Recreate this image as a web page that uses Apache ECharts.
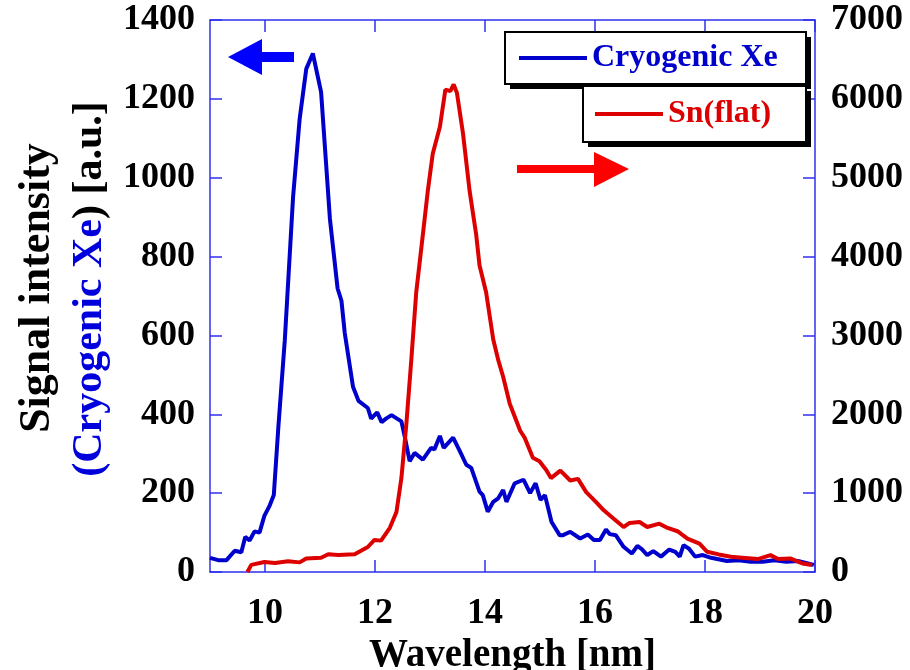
<!DOCTYPE html>
<html>
<head>
<meta charset="utf-8">
<script src="https://cdn.jsdelivr.net/npm/echarts@6/dist/echarts.min.js"></script>
<style>
  html, body { margin: 0; padding: 0; background: #fff; }
  #box1 { width: 910px; height: 670px; }
</style>
</head>
<body>
<div id="box1"></div>
<script>
// Cryogenic Xe (left axis)
var xeWl = [9.0, 9.15, 9.3, 9.45, 9.57, 9.64, 9.72, 9.81, 9.9, 9.99, 10.08, 10.16, 10.24, 10.36, 10.51, 10.63, 10.75, 10.87,
  11.02, 11.18, 11.32, 11.39, 11.45, 11.6, 11.7, 11.87, 11.93, 12.04, 12.12, 12.2, 12.3, 12.48, 12.54, 12.63, 12.72, 12.87,
  13.02, 13.08, 13.18, 13.25, 13.42, 13.54, 13.66, 13.75, 13.9, 13.96, 14.05, 14.15, 14.24, 14.33, 14.39, 14.54, 14.7, 14.82,
  14.92, 15.01, 15.09, 15.21, 15.36, 15.41, 15.55, 15.73, 15.87, 15.98, 16.09, 16.2, 16.27, 16.38, 16.52, 16.67, 16.77, 16.85,
  16.95, 17.06, 17.2, 17.35, 17.46, 17.54, 17.61, 17.71, 17.82, 17.96, 18.11, 18.4, 18.61, 18.83, 19.05, 19.26, 19.48, 19.69, 19.98];
var xeVal = [36, 30, 30, 54, 50, 89, 80, 103, 100, 143, 167, 195, 362, 588, 950, 1149, 1276, 1315,
  1217, 896, 719, 688, 606, 470, 434, 416, 389, 405, 380, 389, 398, 382, 344, 281, 302, 285,
  315, 311, 345, 315, 341, 307, 272, 264, 204, 195, 153, 178, 187, 208, 178, 225, 234, 200,
  225, 183, 195, 127, 93, 93, 102, 85, 95, 81, 81, 108, 96, 93, 64, 47, 66, 58,
  43, 53, 39, 57, 51, 39, 68, 59, 39, 43, 36, 28, 30, 26, 26, 30, 26, 28, 18];

// Sn(flat) (right axis)
var snWl = [9.68, 9.75, 9.99, 10.18, 10.42, 10.63, 10.75, 11.02, 11.15, 11.33, 11.63, 11.87, 11.99, 12.11, 12.27, 12.39, 12.48,
  12.57, 12.66, 12.75, 12.87, 12.96, 13.05, 13.18, 13.28, 13.37, 13.43, 13.49, 13.6, 13.72, 13.84, 13.9, 14.02, 14.15, 14.24,
  14.33, 14.45, 14.64, 14.72, 14.87, 14.99, 15.11, 15.2, 15.37, 15.55, 15.69, 15.84, 16.02, 16.16, 16.34, 16.52, 16.63, 16.81,
  16.95, 17.17, 17.32, 17.5, 17.68, 17.9, 18.04, 18.25, 18.47, 18.68, 18.96, 19.19, 19.33, 19.55, 19.77, 19.95];
var snVal = [0, 90, 127, 113, 136, 122, 172, 181, 226, 217, 226, 317, 407, 398, 560, 760, 1191,
  1877, 2690, 3548, 4276, 4833, 5304, 5647, 6118, 6097, 6182, 6075, 5561, 4833, 4276, 3890, 3548, 2948, 2690,
  2476, 2134, 1791, 1705, 1448, 1405, 1298, 1191, 1286, 1160, 1181, 1013, 887, 782, 676, 571, 622, 634,
  571, 613, 559, 517, 424, 361, 256, 223, 193, 181, 164, 214, 164, 172, 109, 88];

var xTicks = [10, 12, 14, 16, 18, 20];

function zip(a, b) {
  return a.map(function (v, i) { return [v, b[i]]; });
}
function plain(v) { return String(v); }

var font = 'Liberation Serif';
var axisBlue = '#3030ee';
var xeColor = '#0000cc';
var snColor = '#dd0000';

var myChart1 = echarts.init(document.getElementById('box1'));
var option = {
  backgroundColor: '#fff',
  animation: false,
  grid: { left: 210, right: 95, top: 20, bottom: 98, containLabel: false, outerBoundsMode: 'none' },
  legend: [{
    data: ['Cryogenic Xe'],
    left: 505, top: 32,
    selectedMode: false,
    icon: 'rect', itemWidth: 68, itemHeight: 4,
    padding: [8, 18, 8, 14],
    textStyle: { color: xeColor, fontFamily: font, fontWeight: 'bold', fontSize: 32, lineHeight: 36 }
  }, {
    data: ['Sn(flat)'],
    left: 583, top: 86,
    selectedMode: false,
    icon: 'rect', itemWidth: 68, itemHeight: 4,
    padding: [10, 16, 10, 12],
    textStyle: { color: snColor, fontFamily: font, fontWeight: 'bold', fontSize: 32, lineHeight: 36 }
  }],
  xAxis: [{
    type: 'value', min: 9, max: 20, interval: 1,
    name: 'Wavelength [nm]', nameLocation: 'middle', nameGap: 60,
    nameTextStyle: { color: '#000', fontFamily: font, fontWeight: 'bold', fontSize: 39 },
    axisLine: { onZero: false, lineStyle: { color: axisBlue, width: 1.5 } },
    axisTick: { inside: true, length: 12, customValues: xTicks, lineStyle: { color: axisBlue, width: 1.5 } },
    axisLabel: { customValues: xTicks, margin: 24, formatter: plain, color: '#000', fontFamily: font, fontWeight: 'bold', fontSize: 36 },
    splitLine: { show: false }
  }, {
    type: 'value', min: 9, max: 20, interval: 1, position: 'top',
    axisLine: { onZero: false, lineStyle: { color: axisBlue, width: 1.5 } },
    axisTick: { inside: true, length: 12, customValues: xTicks, lineStyle: { color: axisBlue, width: 1.5 } },
    axisLabel: { show: false },
    splitLine: { show: false }
  }],
  yAxis: [{
    type: 'value', min: 0, max: 1400, interval: 200,
    axisLine: { show: true, onZero: false, lineStyle: { color: axisBlue, width: 1.5 } },
    axisTick: { show: true, inside: true, length: 12, lineStyle: { color: axisBlue, width: 1.5 } },
    axisLabel: { margin: 15, formatter: plain, color: '#000', fontFamily: font, fontWeight: 'bold', fontSize: 36 },
    splitLine: { show: false }
  }, {
    type: 'value', min: 0, max: 7000, interval: 1000, position: 'right',
    axisLine: { show: true, onZero: false, lineStyle: { color: axisBlue, width: 1.5 } },
    axisTick: { show: true, inside: true, length: 12, lineStyle: { color: axisBlue, width: 1.5 } },
    axisLabel: { margin: 16, formatter: plain, color: '#000', fontFamily: font, fontWeight: 'bold', fontSize: 36 },
    splitLine: { show: false }
  }],
  graphic: [
    // Y axis title, two lines
    {
      type: 'text', x: 38, y: 288, rotation: Math.PI / 2,
      style: { text: 'Signal intensity', fill: '#000', font: 'bold 44px "Liberation Serif"', align: 'center', verticalAlign: 'middle' }
    },
    {
      type: 'text', x: 90, y: 289, rotation: Math.PI / 2,
      style: {
        text: '{b|(Cryogenic Xe}{k|) [a.u.]}', align: 'center', verticalAlign: 'middle',
        rich: {
          b: { fill: '#0000dd', font: 'bold 42px "Liberation Serif"' },
          k: { fill: '#000', font: 'bold 42px "Liberation Serif"' }
        }
      }
    },
    // legend boxes with hard shadow
    { type: 'rect', z: 1, shape: { x: 510, y: 37, width: 301, height: 52 }, style: { fill: '#000' } },
    { type: 'rect', z: 1, shape: { x: 505, y: 32, width: 301, height: 52 }, style: { fill: '#fff', stroke: '#000', lineWidth: 2 } },
    { type: 'rect', z: 1, shape: { x: 588, y: 91, width: 223, height: 56 }, style: { fill: '#000' } },
    { type: 'rect', z: 1, shape: { x: 583, y: 86, width: 223, height: 56 }, style: { fill: '#fff', stroke: '#000', lineWidth: 2 } },
    // left arrow (blue -> left axis)
    {
      type: 'polygon',
      shape: { points: [[228, 57], [262, 39], [262, 52], [294, 52], [294, 62], [262, 62], [262, 75]] },
      style: { fill: '#0000ff' }
    },
    // right arrow (red -> right axis)
    {
      type: 'polygon',
      shape: { points: [[517, 165], [594, 165], [594, 152], [629, 169], [594, 187], [594, 173], [517, 173]] },
      style: { fill: '#ff0000' }
    }
  ],
  series: [{
    name: 'Cryogenic Xe',
    type: 'line',
    xAxisIndex: 0, yAxisIndex: 0,
    showSymbol: false, symbol: 'none',
    lineStyle: { color: xeColor, width: 4 },
    itemStyle: { color: xeColor },
    data: zip(xeWl, xeVal)
  }, {
    name: 'Sn(flat)',
    type: 'line',
    xAxisIndex: 0, yAxisIndex: 1,
    showSymbol: false, symbol: 'none',
    lineStyle: { color: snColor, width: 4 },
    itemStyle: { color: snColor },
    data: zip(snWl, snVal)
  }]
};

myChart1.setOption(option);
</script>
</body>
</html>
